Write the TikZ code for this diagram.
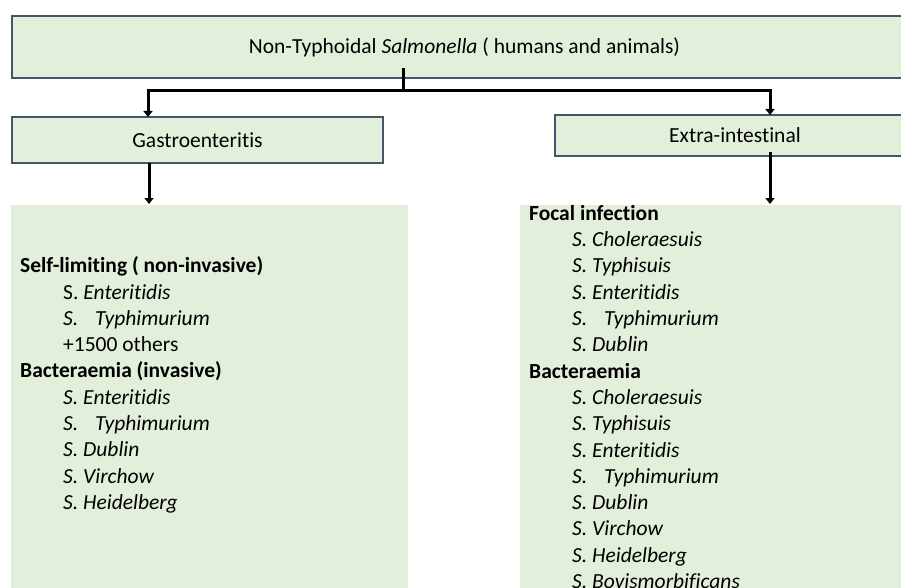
\documentclass[tikz,border=0pt]{standalone}
\usepackage{fontspec}
\setmainfont{Carlito}[Ligatures={NoCommon}]
\usetikzlibrary{arrows.meta}
\definecolor{boxfill}{HTML}{E2EFDA}
\definecolor{boxline}{HTML}{44546A}
\begin{document}
\begin{tikzpicture}[x=1pt,y=-1pt,
  hbox/.style={draw=boxline,line width=1.5pt,fill=boxfill,inner sep=0pt,font=\fontsize{21.5}{26}\selectfont},
  panel/.style={fill=boxfill,draw=none,inner sep=0pt,anchor=north west},
  conn/.style={line width=3pt,black},
  arr/.style={conn,-{Triangle[width=9pt,length=6pt]}},
  txt/.style={anchor=base west,inner sep=0pt,font=\fontsize{21.5}{26}\selectfont}]
\useasboundingbox (0,0) rectangle (901,588);
% boxes
\node[hbox,minimum width=905pt,minimum height=62pt] (top) at (464.5,47)
  {Non-Typhoidal \textit{Salmonella} ( humans and animals)};
\node[hbox,minimum width=371pt,minimum height=46pt] (gastro) at (197.5,140) {Gastroenteritis};
\node[hbox,minimum width=360pt,minimum height=41pt] (extra) at (735,135.5) {Extra-intestinal};
\node[panel,minimum width=397pt,minimum height=390pt] (lpanel) at (11,205) {};
\node[panel,minimum width=400pt,minimum height=390pt] (rpanel) at (520,205) {};
% connectors
\coordinate (stem) at (403,68);
\coordinate (split) at (403,91);
\coordinate (gin) at (148,117);
\coordinate (ein) at (770,115);
\coordinate (gout) at (149,163);
\coordinate (lin) at (149,204);
\coordinate (eout) at (770,152);
\coordinate (rin) at (770,204);
\draw[conn] (stem) -- (split);
\draw[arr] (split) -| (gin);
\draw[arr] (split) -| (ein);
\draw[arr] (gout) -- (lin);
\draw[arr] (eout) -- (rin);
% left list
\node[txt] (l1) at (20,272.7) {\textbf{Self-limiting ( non-invasive)}};
\node[txt] (l2) at (63,299.0) {S. \textit{Enteritidis}};
\node[txt] (l3) at (63,325.3) {\textit{S.\hspace{12pt} Typhimurium}};
\node[txt] (l4) at (63,351.6) {+1500 others};
\node[txt] (l5) at (20,377.9) {\textbf{Bacteraemia (invasive)}};
\node[txt] (l6) at (63,404.2) {\textit{S. Enteritidis}};
\node[txt] (l7) at (63,430.5) {\textit{S.\hspace{12pt} Typhimurium}};
\node[txt] (l8) at (63,456.8) {\textit{S. Dublin}};
\node[txt] (l9) at (63,483.1) {\textit{S. Virchow}};
\node[txt] (l10) at (63,509.4) {\textit{S. Heidelberg}};
% right list
\node[txt] (r1) at (529,220.3) {\textbf{Focal infection}};
\node[txt] (r2) at (572,246.6) {\textit{S. Choleraesuis}};
\node[txt] (r3) at (572,272.9) {\textit{S. Typhisuis}};
\node[txt] (r4) at (572,299.2) {\textit{S. Enteritidis}};
\node[txt] (r5) at (572,325.5) {\textit{S.\hspace{12pt} Typhimurium}};
\node[txt] (r6) at (572,351.8) {\textit{S. Dublin}};
\node[txt] (r7) at (529,378.1) {\textbf{Bacteraemia}};
\node[txt] (r8) at (572,404.4) {\textit{S. Choleraesuis}};
\node[txt] (r9) at (572,430.7) {\textit{S. Typhisuis}};
\node[txt] (r10) at (572,457.0) {\textit{S. Enteritidis}};
\node[txt] (r11) at (572,483.3) {\textit{S.\hspace{12pt} Typhimurium}};
\node[txt] (r12) at (572,509.6) {\textit{S. Dublin}};
\node[txt] (r13) at (572,535.9) {\textit{S. Virchow}};
\node[txt] (r14) at (572,562.2) {\textit{S. Heidelberg}};
\node[txt] (r15) at (572,588.5) {\textit{S. Bovismorbificans}};
\end{tikzpicture}
\end{document}
